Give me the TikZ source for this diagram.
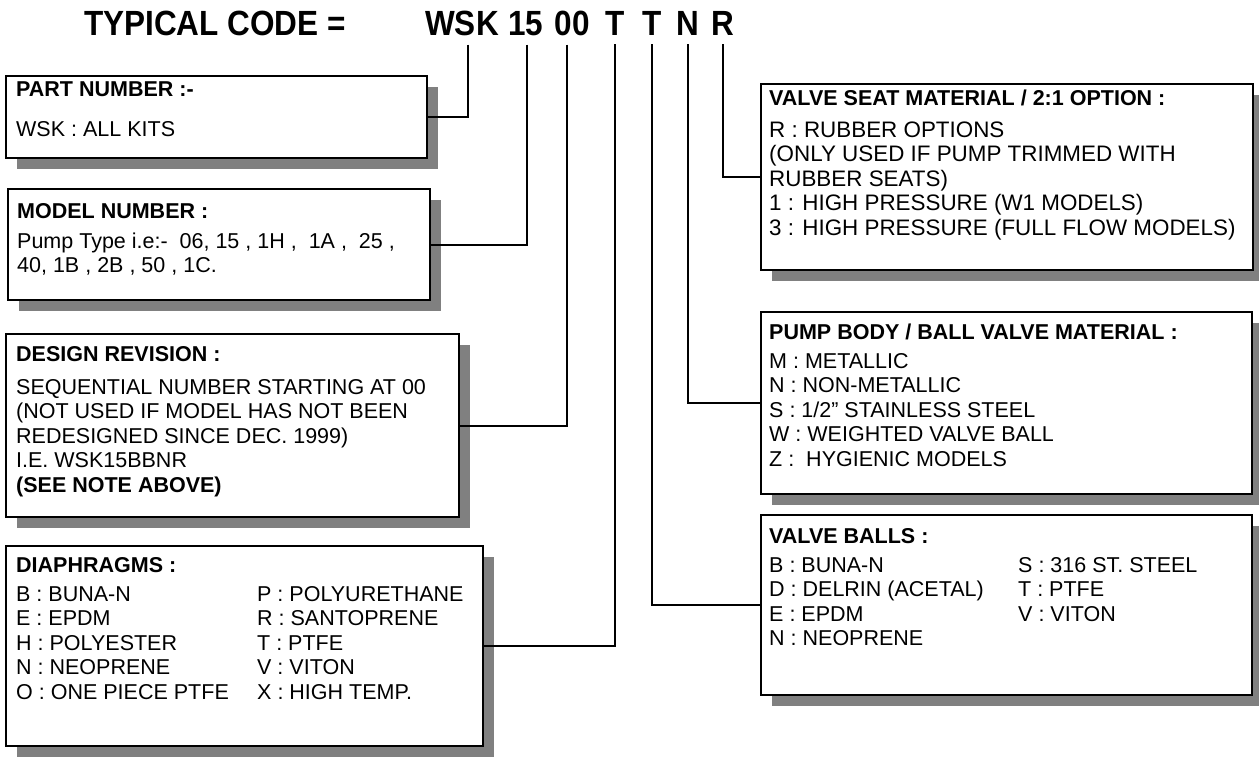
\documentclass[tikz,border=0pt]{standalone}
\usepackage{fontspec}
\setmainfont{Liberation Sans}
\newfontfamily\codefont{Liberation Sans}[FakeStretch=0.9]
\usetikzlibrary{shadows}

\begin{document}
\begin{tikzpicture}[x=1pt, y=-1pt,
    box/.style={draw, line width=2pt, fill=white, anchor=north west, inner sep=0pt,
      drop shadow={shadow xshift=11pt, shadow yshift=-11pt, fill=gray, opacity=1}},
    txt/.style={anchor=base west, inner sep=0pt, font=\fontsize{21.5}{24.5}\selectfont},
    code/.style={anchor=base, inner xsep=0pt, inner ysep=9pt, font=\codefont\fontsize{35}{38}\selectfont\bfseries},
    link/.style={line width=2pt}
  ]
    \useasboundingbox (0,0) rectangle (1259,756);

    % typical code line
    \node[code, anchor=base west] (title) at (84,35) {TYPICAL CODE =};
    \node[code] (cWSK) at (462,35) {WSK};
    \node[code] (c15) at (526,35) {15};
    \node[code] (c00) at (572,35) {00};
    \node[code] (cT1) at (615,35) {T};
    \node[code] (cT2) at (652,35) {T};
    \node[code] (cN) at (688,35) {N};
    \node[code] (cR) at (723,35) {R};

    % left column
    \node[box, minimum width=421pt, minimum height=82pt] (part) at (5,75) {};
    \node[txt] (partTxt) at (16,96) {\begin{tabular}[t]{@{}l@{}}
      \textbf{PART NUMBER :-}\\[15.5pt]
      WSK : ALL KITS
    \end{tabular}};

    \node[box, minimum width=422pt, minimum height=111pt] (model) at (7,188) {};
    \node[txt] (modelTxt) at (17,218) {\begin{tabular}[t]{@{}l@{}}
      \textbf{MODEL NUMBER :}\\[5.5pt]
      Pump Type i.e:- ~06, 15 , 1H , ~1A , ~25 ,\\
      40, 1B , 2B , 50 , 1C.
    \end{tabular}};

    \node[box, minimum width=453pt, minimum height=183pt] (design) at (5,333) {};
    \node[txt] (designTxt) at (16,361) {\begin{tabular}[t]{@{}l@{}}
      \textbf{DESIGN REVISION :}\\[8.5pt]
      SEQUENTIAL NUMBER STARTING AT 00\\
      (NOT USED IF MODEL HAS NOT BEEN\\
      REDESIGNED SINCE DEC. 1999)\\
      I.E. WSK15BBNR\\
      \textbf{(SEE NOTE ABOVE)}
    \end{tabular}};

    \node[box, minimum width=477pt, minimum height=200pt] (diaph) at (5,545) {};
    \node[txt] (diaphTxt) at (16,572) {\begin{tabular}[t]{@{}p{241pt}@{}l@{}}
      \multicolumn{2}{@{}l@{}}{\textbf{DIAPHRAGMS :}}\\[4.5pt]
      B : BUNA-N & P : POLYURETHANE\\
      E : EPDM & R : SANTOPRENE\\
      H : POLYESTER & T : PTFE\\
      N : NEOPRENE & V : VITON\\
      O : ONE PIECE PTFE & X : HIGH TEMP.
    \end{tabular}};

    % right column
    \node[box, minimum width=492pt, minimum height=186pt] (seat) at (760,83) {};
    \node[txt] (seatTxt) at (769,105) {\begin{tabular}[t]{@{}l@{}}
      \textbf{VALVE SEAT MATERIAL / 2:1 OPTION :}\\[7.5pt]
      \fontsize{22.4}{24.3}\selectfont R : RUBBER OPTIONS\\
      \fontsize{22.4}{24.3}\selectfont (ONLY USED IF PUMP TRIMMED WITH\\
      \fontsize{22.4}{24.3}\selectfont RUBBER SEATS)\\
      \fontsize{22.4}{24.3}\selectfont 1 : HIGH PRESSURE (W1 MODELS)\\
      \fontsize{22.4}{24.3}\selectfont 3 : HIGH PRESSURE (FULL FLOW MODELS)
    \end{tabular}};

    \node[box, minimum width=491pt, minimum height=182pt] (body) at (760,311) {};
    \node[txt] (bodyTxt) at (769,339) {\begin{tabular}[t]{@{}l@{}}
      \textbf{PUMP BODY / BALL VALVE MATERIAL :}\\[4.5pt]
      M : METALLIC\\
      N : NON-METALLIC\\
      S : 1/2” STAINLESS STEEL\\
      W : WEIGHTED VALVE BALL\\
      Z : ~HYGIENIC MODELS
    \end{tabular}};

    \node[box, minimum width=491pt, minimum height=180pt] (balls) at (760,514) {};
    \node[txt] (ballsTxt) at (769,543) {\begin{tabular}[t]{@{}p{249pt}@{}l@{}}
      \multicolumn{2}{@{}l@{}}{\textbf{VALVE BALLS :}}\\[4.5pt]
      B : BUNA-N & S : 316 ST. STEEL\\
      D : DELRIN (ACETAL) & T : PTFE\\
      E : EPDM & V : VITON\\
      N : NEOPRENE &
    \end{tabular}};

    % code letters to boxes
    \draw[link] ([xshift=6pt]cWSK.south) |- (part.east);
    \draw[link] ([xshift=1pt]c15.south) |- (model.east);
    \draw[link] ([xshift=-5pt]c00.south) |- (design.east);
    \draw[link] (cT1.south) |- (diaph.east);
    \draw[link] (cT2.south) |- (balls.west);
    \draw[link] (cN.south) |- (body.west);
    \draw[link] (cR.south) |- (seat.west);
\end{tikzpicture}
\end{document}
